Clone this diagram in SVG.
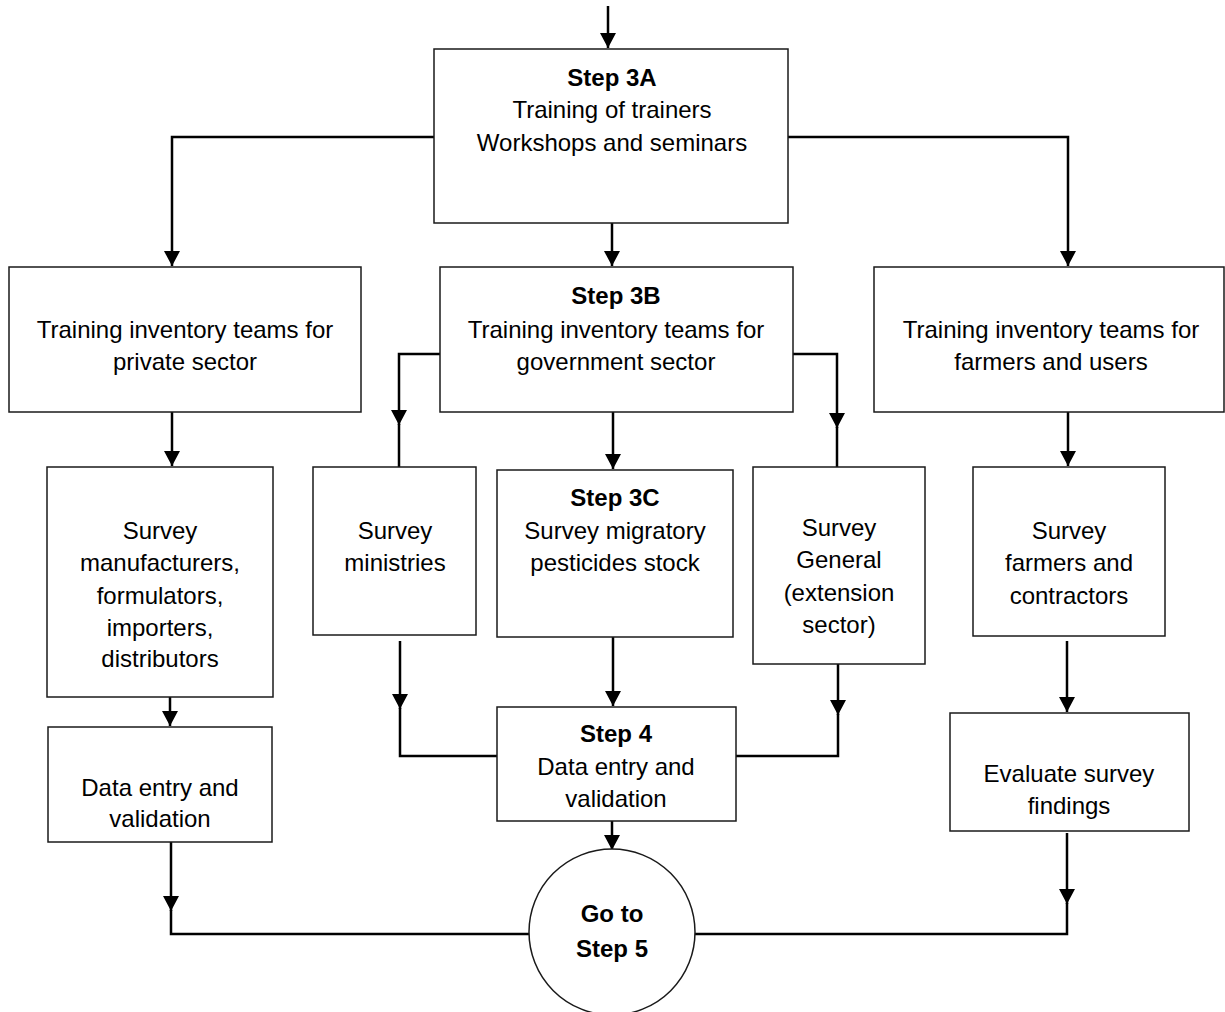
<svg xmlns="http://www.w3.org/2000/svg" width="1225" height="1012" viewBox="0 0 1225 1012">
<defs>
<style>
.box{fill:#fff;stroke:#1a1a1a;stroke-width:1.5}
.c{fill:none;stroke:#000;stroke-width:2.5}
text{font-family:"Liberation Sans",Arial,sans-serif;font-size:24px;fill:#000;text-anchor:middle}
.b{font-weight:bold}
</style>
<marker id="arr" viewBox="0 0 15 16" refX="15" refY="8" markerWidth="15" markerHeight="16" markerUnits="userSpaceOnUse" orient="auto">
<path d="M0,0 L15,8 L0,16 Z" fill="#000"/>
</marker>
</defs>
<rect width="1225" height="1012" fill="#fff"/>
<g id="connectors">
<path class="c" d="M608,6 V48" marker-end="url(#arr)"/>
<path class="c" d="M434,137 H172 V266" marker-end="url(#arr)"/>
<path class="c" d="M788,137 H1068 V266" marker-end="url(#arr)"/>
<path class="c" d="M612,223 V266" marker-end="url(#arr)"/>
<path class="c" d="M172,412 V466" marker-end="url(#arr)"/>
<path class="c" d="M1068,412 V466" marker-end="url(#arr)"/>
<path class="c" d="M440,354 H399 V425" marker-end="url(#arr)"/>
<path class="c" d="M399,424 V467"/>
<path class="c" d="M793,354 H837 V428" marker-end="url(#arr)"/>
<path class="c" d="M837,427 V467"/>
<path class="c" d="M613,412 V469" marker-end="url(#arr)"/>
<path class="c" d="M613,637 V706" marker-end="url(#arr)"/>
<path class="c" d="M400,641 V709" marker-end="url(#arr)"/>
<path class="c" d="M400,708 V756 H497"/>
<path class="c" d="M838,664 V715" marker-end="url(#arr)"/>
<path class="c" d="M838,714 V756 H736"/>
<path class="c" d="M170,697 V726" marker-end="url(#arr)"/>
<path class="c" d="M612,821 V850" marker-end="url(#arr)"/>
<path class="c" d="M1067,641 V712" marker-end="url(#arr)"/>
<path class="c" d="M171,842 V911" marker-end="url(#arr)"/>
<path class="c" d="M171,910 V934 H529"/>
<path class="c" d="M1067,833 V904" marker-end="url(#arr)"/>
<path class="c" d="M1067,903 V934 H695"/>
</g>
<g id="step3a">
<rect class="box" x="434" y="49" width="354" height="174"/>
<text class="b" x="612" y="86">Step 3A</text>
<text x="612" y="118">Training of trainers</text>
<text x="612" y="151">Workshops and seminars</text>
</g>
<g id="private">
<rect class="box" x="9" y="267" width="352" height="145"/>
<text x="185" y="338">Training inventory teams for</text>
<text x="185" y="370">private sector</text>
</g>
<g id="step3b">
<rect class="box" x="440" y="267" width="353" height="145"/>
<text class="b" x="616" y="304">Step 3B</text>
<text x="616" y="338">Training inventory teams for</text>
<text x="616" y="370">government sector</text>
</g>
<g id="farmers">
<rect class="box" x="874" y="267" width="350" height="145"/>
<text x="1051" y="338">Training inventory teams for</text>
<text x="1051" y="370">farmers and users</text>
</g>
<g id="manufacturers">
<rect class="box" x="47" y="467" width="226" height="230"/>
<text x="160" y="539">Survey</text>
<text x="160" y="571">manufacturers,</text>
<text x="160" y="604">formulators,</text>
<text x="160" y="636">importers,</text>
<text x="160" y="667">distributors</text>
</g>
<g id="ministries">
<rect class="box" x="313" y="467" width="163" height="168"/>
<text x="395" y="539">Survey</text>
<text x="395" y="571">ministries</text>
</g>
<g id="step3c">
<rect class="box" x="497" y="470" width="236" height="167"/>
<text class="b" x="615" y="506">Step 3C</text>
<text x="615" y="539">Survey migratory</text>
<text x="615" y="571">pesticides stock</text>
</g>
<g id="general">
<rect class="box" x="753" y="467" width="172" height="197"/>
<text x="839" y="536">Survey</text>
<text x="839" y="568">General</text>
<text x="839" y="601">(extension</text>
<text x="839" y="633">sector)</text>
</g>
<g id="farmersurvey">
<rect class="box" x="973" y="467" width="192" height="169"/>
<text x="1069" y="539">Survey</text>
<text x="1069" y="571">farmers and</text>
<text x="1069" y="604">contractors</text>
</g>
<g id="dataentry">
<rect class="box" x="48" y="727" width="224" height="115"/>
<text x="160" y="796">Data entry and</text>
<text x="160" y="827">validation</text>
</g>
<g id="step4">
<rect class="box" x="497" y="707" width="239" height="114"/>
<text class="b" x="616" y="742">Step 4</text>
<text x="616" y="775">Data entry and</text>
<text x="616" y="807">validation</text>
</g>
<g id="evaluate">
<rect class="box" x="950" y="713" width="239" height="118"/>
<text x="1069" y="782">Evaluate survey</text>
<text x="1069" y="814">findings</text>
</g>
<g id="step5">
<circle class="box" cx="612" cy="932" r="83"/>
<text class="b" x="612" y="922">Go to</text>
<text class="b" x="612" y="957">Step 5</text>
</g>
</svg>
